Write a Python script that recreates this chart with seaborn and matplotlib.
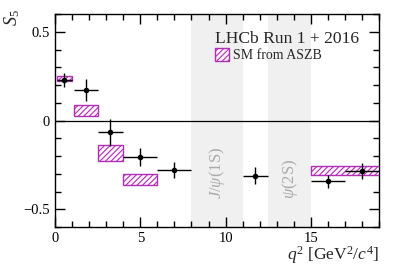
import numpy as np
import matplotlib
matplotlib.use("Agg")
import matplotlib.pyplot as plt
from matplotlib.patches import Patch
from matplotlib.ticker import MultipleLocator
import pandas as pd
import seaborn as sns

# measured S5 per q2 bin
bin_lo = [0.1, 1.1, 2.5, 4.0, 6.0, 11.0, 15.0, 17.0]
bin_hi = [0.98, 2.5, 4.0, 6.0, 8.0, 12.5, 17.0, 19.0]
s5_x = [0.55, 1.8, 3.25, 5.0, 7.0, 11.75, 16.0, 18.0]
s5_val = [0.229, 0.172, -0.066, -0.206, -0.281, -0.311, -0.343, -0.283]
s5_err = [0.040, 0.062, 0.075, 0.052, 0.045, 0.047, 0.037, 0.045]

# SM prediction boxes
sm_lo = [0.1, 1.1, 2.5, 4.0, 15.0]
sm_hi = [0.98, 2.5, 4.0, 6.0, 19.0]
sm_low = [0.221, 0.026, -0.225, -0.365, -0.307]
sm_high = [0.251, 0.090, -0.140, -0.300, -0.258]

# vetoed charmonium regions
veto_lo = [8.0, 12.5]
veto_hi = [11.0, 15.0]
veto_labels = [r"$J/\psi$(1S)", r"$\psi$(2S)"]

df = pd.DataFrame({"q2": s5_x, "S5": s5_val})

sns.set_style("ticks")
plt.rcParams["font.family"] = ["Liberation Serif", "DejaVu Serif"]
plt.rcParams["mathtext.fontset"] = "custom"
plt.rcParams["mathtext.rm"] = "Liberation Serif"
plt.rcParams["mathtext.it"] = "Liberation Serif:italic"

fig = plt.figure(figsize=(3.99, 2.71), dpi=100)
ax = fig.add_axes([0.138, 0.162, 0.812, 0.786])

for lo, hi, lab in zip(veto_lo, veto_hi, veto_labels):
    ax.axvspan(lo, hi, color="#f0f0f0", lw=0, zorder=0)
    ax.text((lo + hi) / 2, -0.44, lab, rotation=90, ha="center", va="bottom",
            color="#aaaaaa", fontsize=12, zorder=1)

ax.axhline(0, color="black", lw=0.9, zorder=2)

mag = "#b22fb5"
plt.rcParams["hatch.color"] = mag
plt.rcParams["hatch.linewidth"] = 0.8
widths = [h - l for l, h in zip(sm_lo, sm_hi)]
heights = [h - l for l, h in zip(sm_low, sm_high)]
ax.bar(sm_lo, heights, width=widths, bottom=sm_low, align="edge",
       facecolor="#fdf5fd", edgecolor=mag, hatch="//////", lw=1.0, zorder=3)

xerr = [np.array(s5_x) - np.array(bin_lo), np.array(bin_hi) - np.array(s5_x)]
ax.errorbar(s5_x, s5_val, xerr=xerr, yerr=s5_err, fmt="none",
            ecolor="black", elinewidth=1.0, capsize=0, zorder=4)
sns.scatterplot(data=df, x="q2", y="S5", ax=ax, color="black", s=16,
                edgecolor="black", linewidth=0, zorder=5)

ax.set_xlim(0, 19)
ax.set_ylim(-0.6, 0.6)
ax.xaxis.set_major_locator(MultipleLocator(5))
ax.xaxis.set_minor_locator(MultipleLocator(1))
ax.yaxis.set_major_locator(MultipleLocator(0.5))
ax.yaxis.set_minor_locator(MultipleLocator(0.1))
ax.set_yticks([-0.5, 0, 0.5])
ax.set_yticklabels(["\u22120.5", "0", "0.5"])
ax.tick_params(which="both", direction="in", top=True, right=True,
               labelsize=10.5, width=1.0, colors="black")
ax.tick_params(which="major", length=7)
ax.tick_params(which="minor", length=4)
for sp in ax.spines.values():
    sp.set_linewidth(1.0)
    sp.set_color("black")

ax.set_xlabel("")
ax.set_ylabel("")
fig.text(0.95, 0.02, r"$q^2$ [GeV$^2$/$c^4$]", ha="right", va="bottom", fontsize=12.6)
fig.text(0.03, 0.934, r"$S_5$", rotation=90, ha="center", va="center", fontsize=13)

ax.text(9.36, 0.438, "LHCb Run 1 + 2016", fontsize=12.6, ha="left", va="baseline", zorder=6)
ax.legend(handles=[Patch(facecolor="#fdf5fd", edgecolor=mag, hatch="//////", lw=1.0)],
          labels=["SM from ASZB"], loc="upper left", bbox_to_anchor=(0.494, 0.84),
          frameon=False, fontsize=10, handlelength=1.0, handleheight=1.0,
          handletextpad=0.3, borderaxespad=0, borderpad=0)

fig.savefig("out.png", dpi=100)
